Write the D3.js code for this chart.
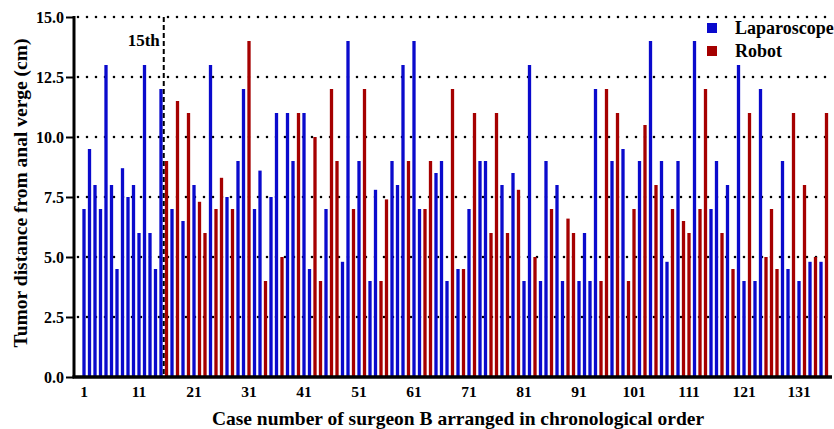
<!DOCTYPE html>
<html>
<head>
<meta charset="utf-8">
<script src="https://cdn.jsdelivr.net/npm/d3@7"></script>
<style>
  html, body { margin: 0; padding: 0; background: #fff; }
  svg { display: block; }
  text { font-family: "Liberation Serif", "Times New Roman", serif; font-weight: bold; fill: #000; }
</style>
</head>
<body>
<svg id="chart" width="834" height="429"></svg>
<script>
// ---- data ----
const values = [
  7.0, 9.5, 8.0, 7.0, 13.0, 8.0, 4.5, 8.7, 7.5, 8.0,
  6.0, 13.0, 6.0, 4.5, 12.0, 9.0, 7.0, 11.5, 6.5, 11.0,
  8.0, 7.3, 6.0, 13.0, 7.0, 8.3, 7.5, 7.0, 9.0, 12.0,
  14.0, 7.0, 8.6, 4.0, 7.5, 11.0, 5.0, 11.0, 9.0, 11.0,
  11.0, 4.5, 10.0, 4.0, 7.0, 12.0, 9.0, 4.8, 14.0, 7.0,
  9.0, 12.0, 4.0, 7.8, 4.0, 7.4, 9.0, 8.0, 13.0, 9.0,
  14.0, 7.0, 7.0, 9.0, 8.5, 9.0, 4.0, 12.0, 4.5, 4.5,
  7.0, 11.0, 9.0, 9.0, 6.0, 11.0, 8.0, 6.0, 8.5, 7.8,
  4.0, 13.0, 5.0, 4.0, 9.0, 7.0, 8.0, 4.0, 6.6, 6.0,
  4.0, 6.0, 4.0, 12.0, 4.0, 12.0, 9.0, 11.0, 9.5, 4.0,
  7.0, 9.0, 10.5, 14.0, 8.0, 9.0, 4.8, 7.0, 9.0, 6.5,
  6.0, 14.0, 7.0, 12.0, 7.0, 9.0, 6.0, 8.0, 4.5, 13.0,
  4.0, 11.0, 4.0, 12.0, 5.0, 7.0, 4.5, 9.0, 4.5, 11.0,
  4.0, 8.0, 4.8, 5.0, 4.8, 11.0
];
const groups = [
  "L","L","L","L","L","L","L","L","L","L",
  "L","L","L","L","L","R","L","R","L","R",
  "L","R","R","L","R","R","L","R","L","L",
  "R","L","L","R","L","L","R","L","L","R",
  "L","L","R","R","L","R","R","L","L","R",
  "L","R","L","L","R","R","L","L","L","R",
  "L","L","R","R","L","L","L","R","L","R",
  "L","R","L","L","R","R","L","R","L","R",
  "L","L","R","L","L","R","L","L","R","R",
  "L","L","L","L","R","R","L","R","L","R",
  "R","L","R","L","R","L","L","R","L","R",
  "R","L","R","R","L","L","R","L","R","L",
  "L","R","L","L","R","R","R","L","L","R",
  "L","R","L","R","L","R"
];
const cases = d3.range(1, values.length + 1);
const seriesNames = ["Laparoscope", "Robot"];
const seriesKeys = ["L", "R"];
const xTickLabels = [1, 11, 21, 31, 41, 51, 61, 71, 81, 91, 101, 111, 121, 131];
const yTickLabels = [0, 2.5, 5, 7.5, 10, 12.5, 15];
const markerCase = 15;
const markerLabel = "15th";

// ---- layout ----
const svg = d3.select("#chart");
const axisX = 74, plotTop = 17, plotBottom = 377, plotRight = 832;
const colors = { L: "#0a0acc", R: "#a50000" };

const x = d3.scaleBand().domain(cases).range([81.25, 829.25]).paddingInner(0.4).paddingOuter(0.2);
const y = d3.scaleLinear().domain([0, 15]).range([plotBottom, plotTop]);

// gridlines (dotted)
svg.append("g").selectAll("line").data(yTickLabels.filter(d => d > 0)).join("line")
  .attr("x1", axisX + 4).attr("x2", plotRight)
  .attr("y1", d => y(d)).attr("y2", d => y(d))
  .attr("stroke", "#000").attr("stroke-width", 2.6)
  .attr("stroke-linecap", "round").attr("stroke-dasharray", "0,9");

// bars
svg.append("g").selectAll("rect").data(cases).join("rect")
  .attr("x", d => x(d))
  .attr("width", x.bandwidth())
  .attr("y", (d, i) => y(values[i]))
  .attr("height", (d, i) => y(0) - y(values[i]))
  .attr("fill", (d, i) => colors[groups[i]]);

// marker dashed line
const mx = (x(markerCase) + x(markerCase + 1)) / 2 + x.bandwidth() / 2;
svg.append("line")
  .attr("x1", mx).attr("x2", mx).attr("y1", plotTop).attr("y2", plotBottom)
  .attr("stroke", "#000").attr("stroke-width", 2).attr("stroke-dasharray", "5,3");
svg.append("text").attr("x", mx - 4).attr("y", 46).attr("text-anchor", "end")
  .style("font-size", "17px").text(markerLabel);

// y axis
const yAxis = svg.append("g").attr("transform", `translate(${axisX},0)`)
  .call(d3.axisLeft(y).tickValues(yTickLabels).tickFormat(d3.format(".1f")).tickSize(8).tickSizeOuter(0).tickPadding(2));
yAxis.select(".domain").attr("stroke-width", 3).attr("d", `M0,${plotTop - 1}V${plotBottom}`);
yAxis.selectAll(".tick line").attr("stroke-width", 2);
yAxis.selectAll(".tick text").style("font-size", "16px").style("font-family", "Liberation Serif").style("font-weight", "bold");

// x axis
const xAxis = svg.append("g").attr("transform", `translate(0,${plotBottom})`)
  .call(d3.axisBottom(x).tickValues(xTickLabels).tickSize(0).tickSizeOuter(0).tickPadding(9));
xAxis.select(".domain").attr("stroke-width", 3.5).attr("d", `M${axisX - 1.5},0H${plotRight}`);
xAxis.selectAll(".tick text").style("font-size", "15.5px").style("font-family", "Liberation Serif").style("font-weight", "bold");

// axis titles
svg.append("text").attr("x", 458).attr("y", 425).attr("text-anchor", "middle")
  .style("font-size", "19.5px").text("Case number of surgeon B arranged in chronological order");
svg.append("text").attr("transform", "translate(27,193) rotate(-90)").attr("text-anchor", "middle")
  .style("font-size", "19.5px").text("Tumor distance from anal verge (cm)");

// legend
const legend = svg.append("g").selectAll("g").data(seriesKeys).join("g")
  .attr("transform", (d, i) => `translate(707,${23 + i * 23})`);
legend.append("rect").attr("width", 10).attr("height", 10).attr("fill", d => colors[d]);
legend.append("text").attr("x", 28).attr("y", 11).style("font-size", "18px")
  .text((d, i) => seriesNames[i]);
</script>
</body>
</html>
